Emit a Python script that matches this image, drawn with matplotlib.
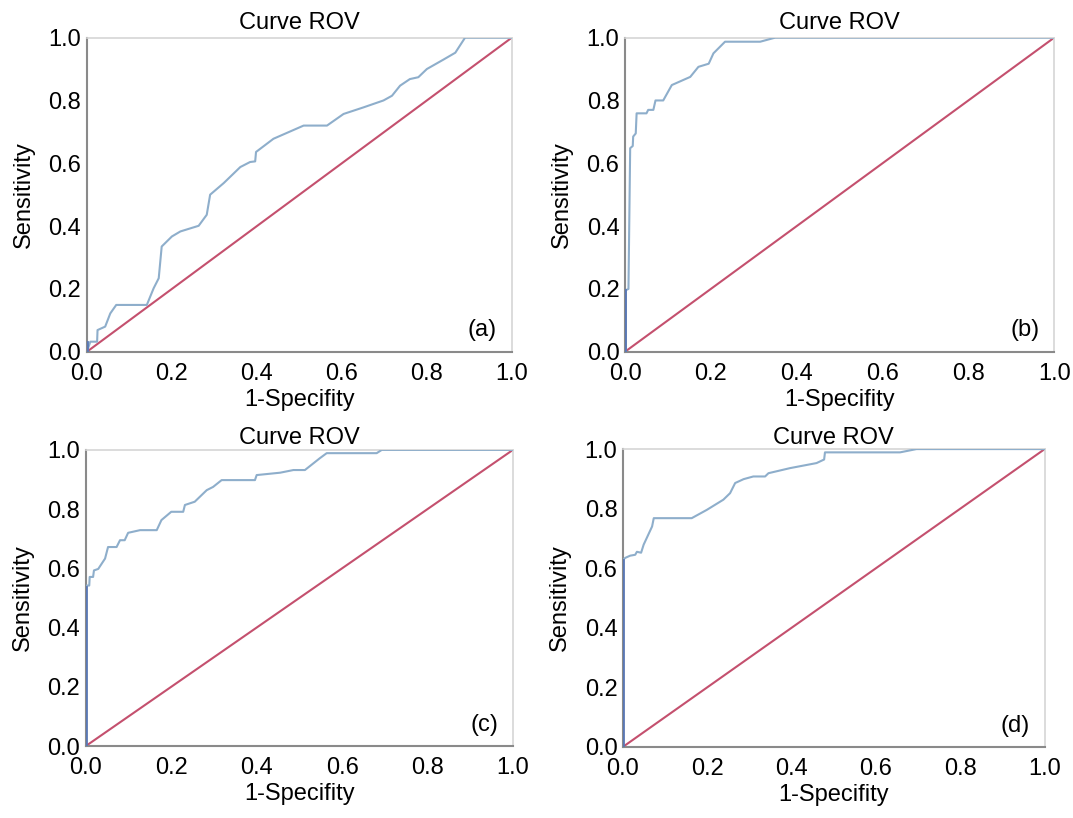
import numpy as np
import matplotlib.pyplot as plt

plt.rcParams['font.family'] = ['Liberation Sans', 'DejaVu Sans']

# curva (a)
fpr_a = [0.0, 0.008, 0.024, 0.025, 0.043, 0.055, 0.069, 0.141, 0.157, 0.169, 0.176,
         0.2, 0.22, 0.263, 0.282, 0.29, 0.322, 0.361, 0.384, 0.396, 0.398, 0.439,
         0.51, 0.565, 0.604, 0.651, 0.698, 0.718, 0.737, 0.76, 0.78, 0.8, 0.839,
         0.867, 0.89, 1.0]
tpr_a = [0.0, 0.032, 0.032, 0.069, 0.08, 0.122, 0.149, 0.149, 0.202, 0.234, 0.335,
         0.367, 0.383, 0.401, 0.436, 0.5, 0.537, 0.588, 0.604, 0.606, 0.636, 0.678,
         0.72, 0.72, 0.757, 0.778, 0.8, 0.815, 0.847, 0.868, 0.874, 0.9, 0.93,
         0.952, 1.0, 1.0]

# curva (b)
fpr_b = [0.0, 0.002, 0.002, 0.008, 0.012, 0.018, 0.019, 0.025, 0.027, 0.05, 0.054,
         0.066, 0.071, 0.089, 0.109, 0.152, 0.171, 0.195, 0.206, 0.233, 0.315, 0.35, 1.0]
tpr_b = [0.0, 0.0, 0.196, 0.2, 0.648, 0.655, 0.685, 0.695, 0.759, 0.759, 0.77,
         0.77, 0.8, 0.8, 0.849, 0.875, 0.907, 0.917, 0.95, 0.987, 0.987, 1.0, 1.0]

# curva (c)
fpr_c = [0.0, 0.0, 0.002, 0.008, 0.009, 0.017, 0.019, 0.029, 0.045, 0.052, 0.072,
         0.08, 0.091, 0.099, 0.127, 0.166, 0.177, 0.2, 0.228, 0.232, 0.255, 0.283,
         0.298, 0.318, 0.396, 0.4, 0.455, 0.486, 0.513, 0.548, 0.564, 0.681,
         0.693, 1.0]
tpr_c = [0.0, 0.537, 0.542, 0.542, 0.571, 0.571, 0.593, 0.598, 0.633, 0.672, 0.672,
         0.695, 0.695, 0.72, 0.729, 0.729, 0.763, 0.791, 0.791, 0.814, 0.825, 0.864,
         0.875, 0.898, 0.898, 0.915, 0.923, 0.932, 0.932, 0.972, 0.989, 0.989,
         1.0, 1.0]

# curva (d)
fpr_d = [0.0, 0.0, 0.006, 0.017, 0.029, 0.033, 0.043, 0.049, 0.069, 0.073, 0.163,
         0.199, 0.238, 0.254, 0.266, 0.286, 0.309, 0.337, 0.345, 0.396, 0.459,
         0.477, 0.479, 0.657, 0.696, 1.0]
tpr_d = [0.0, 0.629, 0.635, 0.642, 0.645, 0.655, 0.652, 0.679, 0.74, 0.768, 0.768,
         0.796, 0.83, 0.852, 0.886, 0.899, 0.908, 0.908, 0.919, 0.936, 0.953,
         0.965, 0.989, 0.989, 1.0, 1.0]

curvas = [(fpr_a, tpr_a, "(a)"), (fpr_b, tpr_b, "(b)"),
          (fpr_c, tpr_c, "(c)"), (fpr_d, tpr_d, "(d)")]

# posicoes dos eixos em fracao da figura
pos = [[0.081, 0.570, 0.396, 0.384],
       [0.5825, 0.570, 0.400, 0.384],
       [0.080, 0.088, 0.398, 0.362],
       [0.5806, 0.087, 0.393, 0.364]]
title_pad = [6, 6, 4, 4]

ticks = [0.0, 0.2, 0.4, 0.6, 0.8, 1.0]
fs = 17

fig = plt.figure(figsize=(10.73, 8.18), dpi=100)

for (fpr, tpr, letra), p, tp in zip(curvas, pos, title_pad):
    ax = fig.add_axes(p)
    ax.plot([0, 1], [0, 1], color="#c4506e", lw=1.5, zorder=2)
    ax.plot(fpr, tpr, color="#8eaecb", lw=1.5, zorder=3)
    ax.plot([0, 0], [0, tpr[1] if tpr[1] > 0 else tpr[2]], color="#5a78b4", lw=2, zorder=4)
    ax.set_xlim(0, 1)
    ax.set_ylim(0, 1)
    ax.set_xticks(ticks)
    ax.set_yticks(ticks)
    ax.set_xticklabels(["%.1f" % t for t in ticks])
    ax.set_yticklabels(["%.1f" % t for t in ticks])
    ax.tick_params(labelsize=fs, length=0)
    ax.tick_params(axis="y", pad=4)
    ax.tick_params(axis="x", pad=8)
    for s in ["left", "bottom"]:
        ax.spines[s].set_color("#8a8a8a")
        ax.spines[s].set_linewidth(1.5)
    for s in ["top", "right"]:
        ax.spines[s].set_color("#d6d6d6")
        ax.spines[s].set_linewidth(1.2)
    ax.set_title("Curve ROV", fontsize=fs, pad=tp)
    ax.set_xlabel("1-Specifity", fontsize=fs, labelpad=3)
    ax.set_ylabel("Sensitivity", fontsize=fs, labelpad=10)
    ax.text(0.965, 0.07, letra, transform=ax.transAxes, fontsize=fs,
            ha="right", va="center")

fig.savefig("out.png", dpi=100)
